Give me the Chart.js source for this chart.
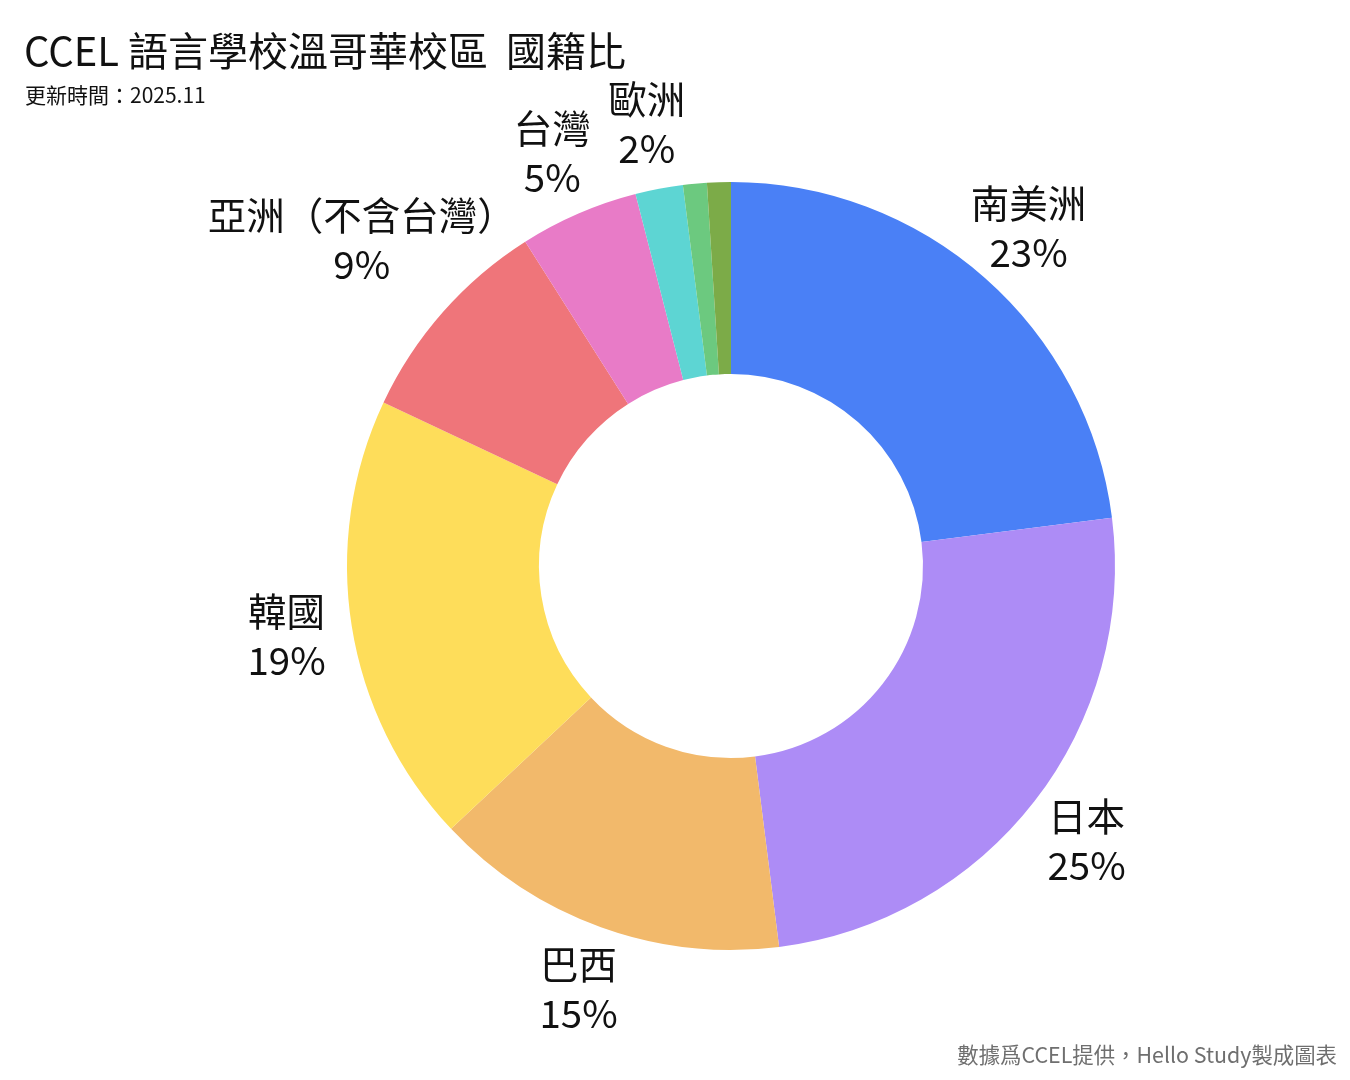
<!DOCTYPE html>
<html>
<head>
<meta charset="utf-8">
<script src="https://cdn.jsdelivr.net/npm/chart.js"></script>
<style>
    html, body { margin: 0; padding: 0; background: #ffffff; }
    #chart { display: block; }
</style>
</head>
<body>
<canvas id="chart" width="1350" height="1080"></canvas>
<script>
// data
const categories = ['南美洲', '日本', '巴西', '韓國', '亞洲（不含台灣）', '台灣', '歐洲', '其他', '其他地區'];
const shares = [23, 25, 15, 19, 9, 5, 2, 1, 1];
const sliceColors = ['#4a80f6', '#ad8cf6', '#f2b96b', '#fedd5a', '#ef757a', '#e87bc7', '#5dd5d3', '#6cc97f', '#7cab48'];

const titleText = 'CCEL 語言學校溫哥華校區  國籍比';
const subtitleText = '更新時間：2025.11';
const sourceText = '數據爲CCEL提供，Hello Study製成圖表';

const FONT = '"Noto Sans CJK TC", "Noto Sans", sans-serif';

// labels outside each slice: name on top, percent below
const outsideLabels = {
    id: 'outsideLabels',
    afterDatasetsDraw(chart) {
        const ctx = chart.ctx;
        const meta = chart.getDatasetMeta(0);
        ctx.save();
        ctx.font = '38.5px ' + FONT;
        ctx.fillStyle = '#111111';
        ctx.textAlign = 'center';
        ctx.textBaseline = 'middle';
        meta.data.forEach((arc, i) => {
            const value = shares[i];
            if (value < 2) return;
            const name = categories[i];
            const pct = value + '%';
            const halfW = Math.max(ctx.measureText(name).width, ctx.measureText(pct).width) / 2;
            const mid = (arc.startAngle + arc.endAngle) / 2;
            const r = arc.outerRadius + 66 + Math.max(0, halfW - 60) * 0.45;
            const cx = arc.x + Math.cos(mid) * r;
            const cy = arc.y + Math.sin(mid) * r;
            ctx.fillText(name, cx, cy - 25);
            ctx.fillText(pct, cx, cy + 24);
        });
        ctx.restore();
    }
};

// heading and source note
const headings = {
    id: 'headings',
    afterDraw(chart) {
        const ctx = chart.ctx;
        ctx.save();
        ctx.textBaseline = 'middle';
        ctx.textAlign = 'left';
        ctx.fillStyle = '#111111';
        ctx.font = '40px ' + FONT;
        ctx.fillText(titleText, 24, 51);
        ctx.font = '21px ' + FONT;
        ctx.fillText(subtitleText, 25, 95);
        ctx.textAlign = 'right';
        ctx.fillStyle = '#6f6f6f';
        ctx.font = '21.4px ' + FONT;
        ctx.fillText(sourceText, 1337, 1055);
        ctx.restore();
    }
};

new Chart(document.getElementById('chart').getContext('2d'), {
    type: 'doughnut',
    data: {
        labels: categories,
        datasets: [{
            data: shares,
            backgroundColor: sliceColors,
            borderWidth: 0
        }]
    },
    options: {
        responsive: false,
        maintainAspectRatio: false,
        animation: false,
        cutout: '50%',
        layout: {
            padding: { left: 347, right: 235, top: 182, bottom: 130 }
        },
        plugins: {
            legend: { display: false },
            title: { display: false },
            tooltip: { enabled: false }
        }
    },
    plugins: [outsideLabels, headings]
});
</script>
</body>
</html>
